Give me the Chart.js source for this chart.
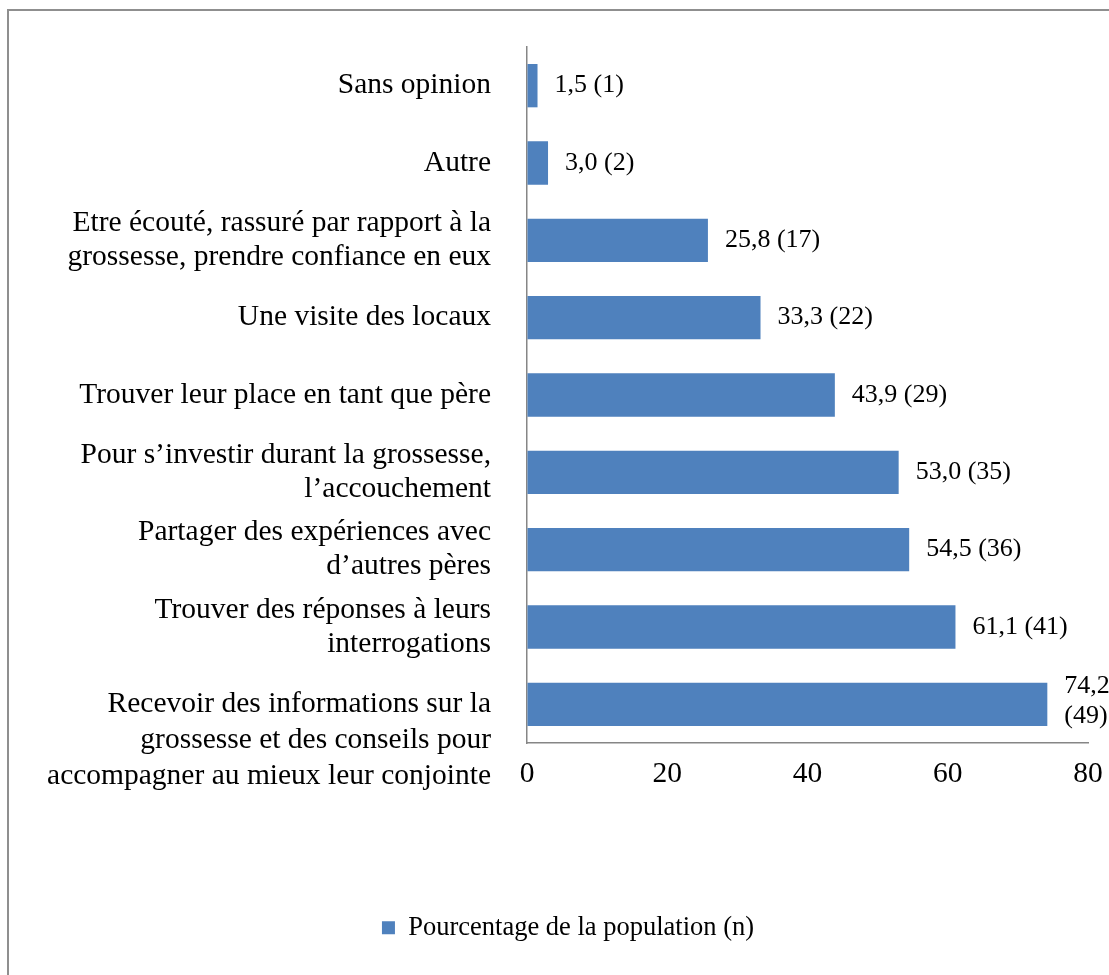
<!DOCTYPE html>
<html lang="fr">
<head>
<meta charset="UTF-8">
<title>Pourcentage de la population</title>
<script src="https://cdn.jsdelivr.net/npm/chart.js"></script>
<style>
  body { margin: 0; background: #fff; }
  .wrap { position: relative; width: 1109px; height: 975px; overflow: hidden; }
  /* cadre gris autour du graphique */
  .frame {
    position: absolute; left: 7px; top: 9px; width: 1200px; height: 1100px;
    border: 2px solid #8f8f8f;
  }
  #chart { position: absolute; left: 0; top: 0; }
</style>
</head>
<body>
<div class="wrap">
  <div class="frame"></div>
  <canvas id="chart" width="1109" height="975"></canvas>
</div>
<script>
const categories = [
  "Sans opinion",
  "Autre",
  ["Etre écouté, rassuré par rapport à la", "grossesse, prendre confiance en eux"],
  "Une visite des locaux",
  "Trouver leur place en tant que père",
  ["Pour s’investir durant la grossesse,", "l’accouchement"],
  ["Partager des expériences avec", "d’autres pères"],
  ["Trouver des réponses à leurs", "interrogations"],
  // deux lignes vides : le libellé descend comme dans l'original
  ["", "", "Recevoir des informations sur la", "grossesse et des conseils pour", "accompagner au mieux leur conjointe"]
];
const percentages = [1.5, 3.0, 25.8, 33.3, 43.9, 53.0, 54.5, 61.1, 74.2];
const counts = [1, 2, 17, 22, 29, 35, 36, 41, 49];
const xTicks = [0, 20, 40, 60, 80];

const FONT = '"Liberation Serif", "Times New Roman", serif';
const BLUE = '#4f81bd';
const AXIS = '#868686';
const AREA_BOTTOM = 743;
const PAD_BOTTOM = 24;
const PAD_LEFT = 48;   // décale la légende vers la droite (les libellés y sont coupés à gauche de l'axe)

// étiquettes "74,2 (49)" à droite des barres
const valueLabels = {
  id: 'valueLabels',
  afterDatasetsDraw(chart) {
    const ctx = chart.ctx;
    const meta = chart.getDatasetMeta(0);
    ctx.save();
    ctx.font = '26px ' + FONT;
    ctx.fillStyle = '#000';
    ctx.textAlign = 'left';
    ctx.textBaseline = 'middle';
    meta.data.forEach((bar, i) => {
      const txt = percentages[i].toFixed(1).replace('.', ',') + ' (' + counts[i] + ')';
      const x = bar.x + 17;
      if (x + ctx.measureText(txt).width > chart.width - 4) {
        const parts = txt.split(' ');
        ctx.fillText(parts[0], x, bar.y - 18);
        ctx.fillText(parts[1], x, bar.y + 12);
      } else {
        ctx.fillText(txt, x, bar.y);
      }
    });
    ctx.restore();
  }
};

new Chart(document.getElementById('chart'), {
  type: 'bar',
  data: {
    labels: categories,
    datasets: [{
      label: 'Pourcentage de la population (n)',
      data: percentages,
      backgroundColor: BLUE,
      borderWidth: 0,
      barPercentage: 0.56,
      categoryPercentage: 1
    }]
  },
  options: {
    indexAxis: 'y',
    responsive: false,
    animation: false,
    devicePixelRatio: 1,
    layout: { padding: { top: 47, right: 21, left: PAD_LEFT, bottom: PAD_BOTTOM } },
    scales: {
      x: {
        min: 0, max: 80,
        afterBuildTicks(scale) { scale.ticks = xTicks.map(v => ({ value: v })); },
        afterFit(scale) {
          const lg = scale.chart.legend ? scale.chart.legend.height : 0;
          scale.height = scale.chart.height - AREA_BOTTOM - PAD_BOTTOM - lg;
          scale.paddingLeft = 0;
          scale.paddingRight = 0;
        },
        grid: { display: true, drawOnChartArea: false, drawTicks: false },
        border: { display: true, color: AXIS, width: 1.5 },
        ticks: { color: '#000', padding: 14, font: { family: FONT, size: 29.5 } }
      },
      y: {
        afterFit(scale) {
          scale.width = 527 - PAD_LEFT;
          scale.paddingTop = 0;
          scale.paddingBottom = 0;
        },
        grid: { display: true, drawOnChartArea: false, drawTicks: false },
        border: { display: true, color: AXIS, width: 1.5 },
        ticks: {
          color: '#000',
          padding: 36,
          autoSkip: false,
          font: (c) => ({ family: FONT, size: 29.5, lineHeight: c.index === 8 ? 1.22 : 1.15 })
        }
      }
    },
    plugins: {
      legend: {
        position: 'bottom',
        labels: {
          color: '#000',
          boxWidth: 13, boxHeight: 13,
          padding: 10,
          font: { family: FONT, size: 26.5 }
        }
      },
      tooltip: { enabled: false }
    }
  },
  plugins: [valueLabels]
});
</script>
</body>
</html>
